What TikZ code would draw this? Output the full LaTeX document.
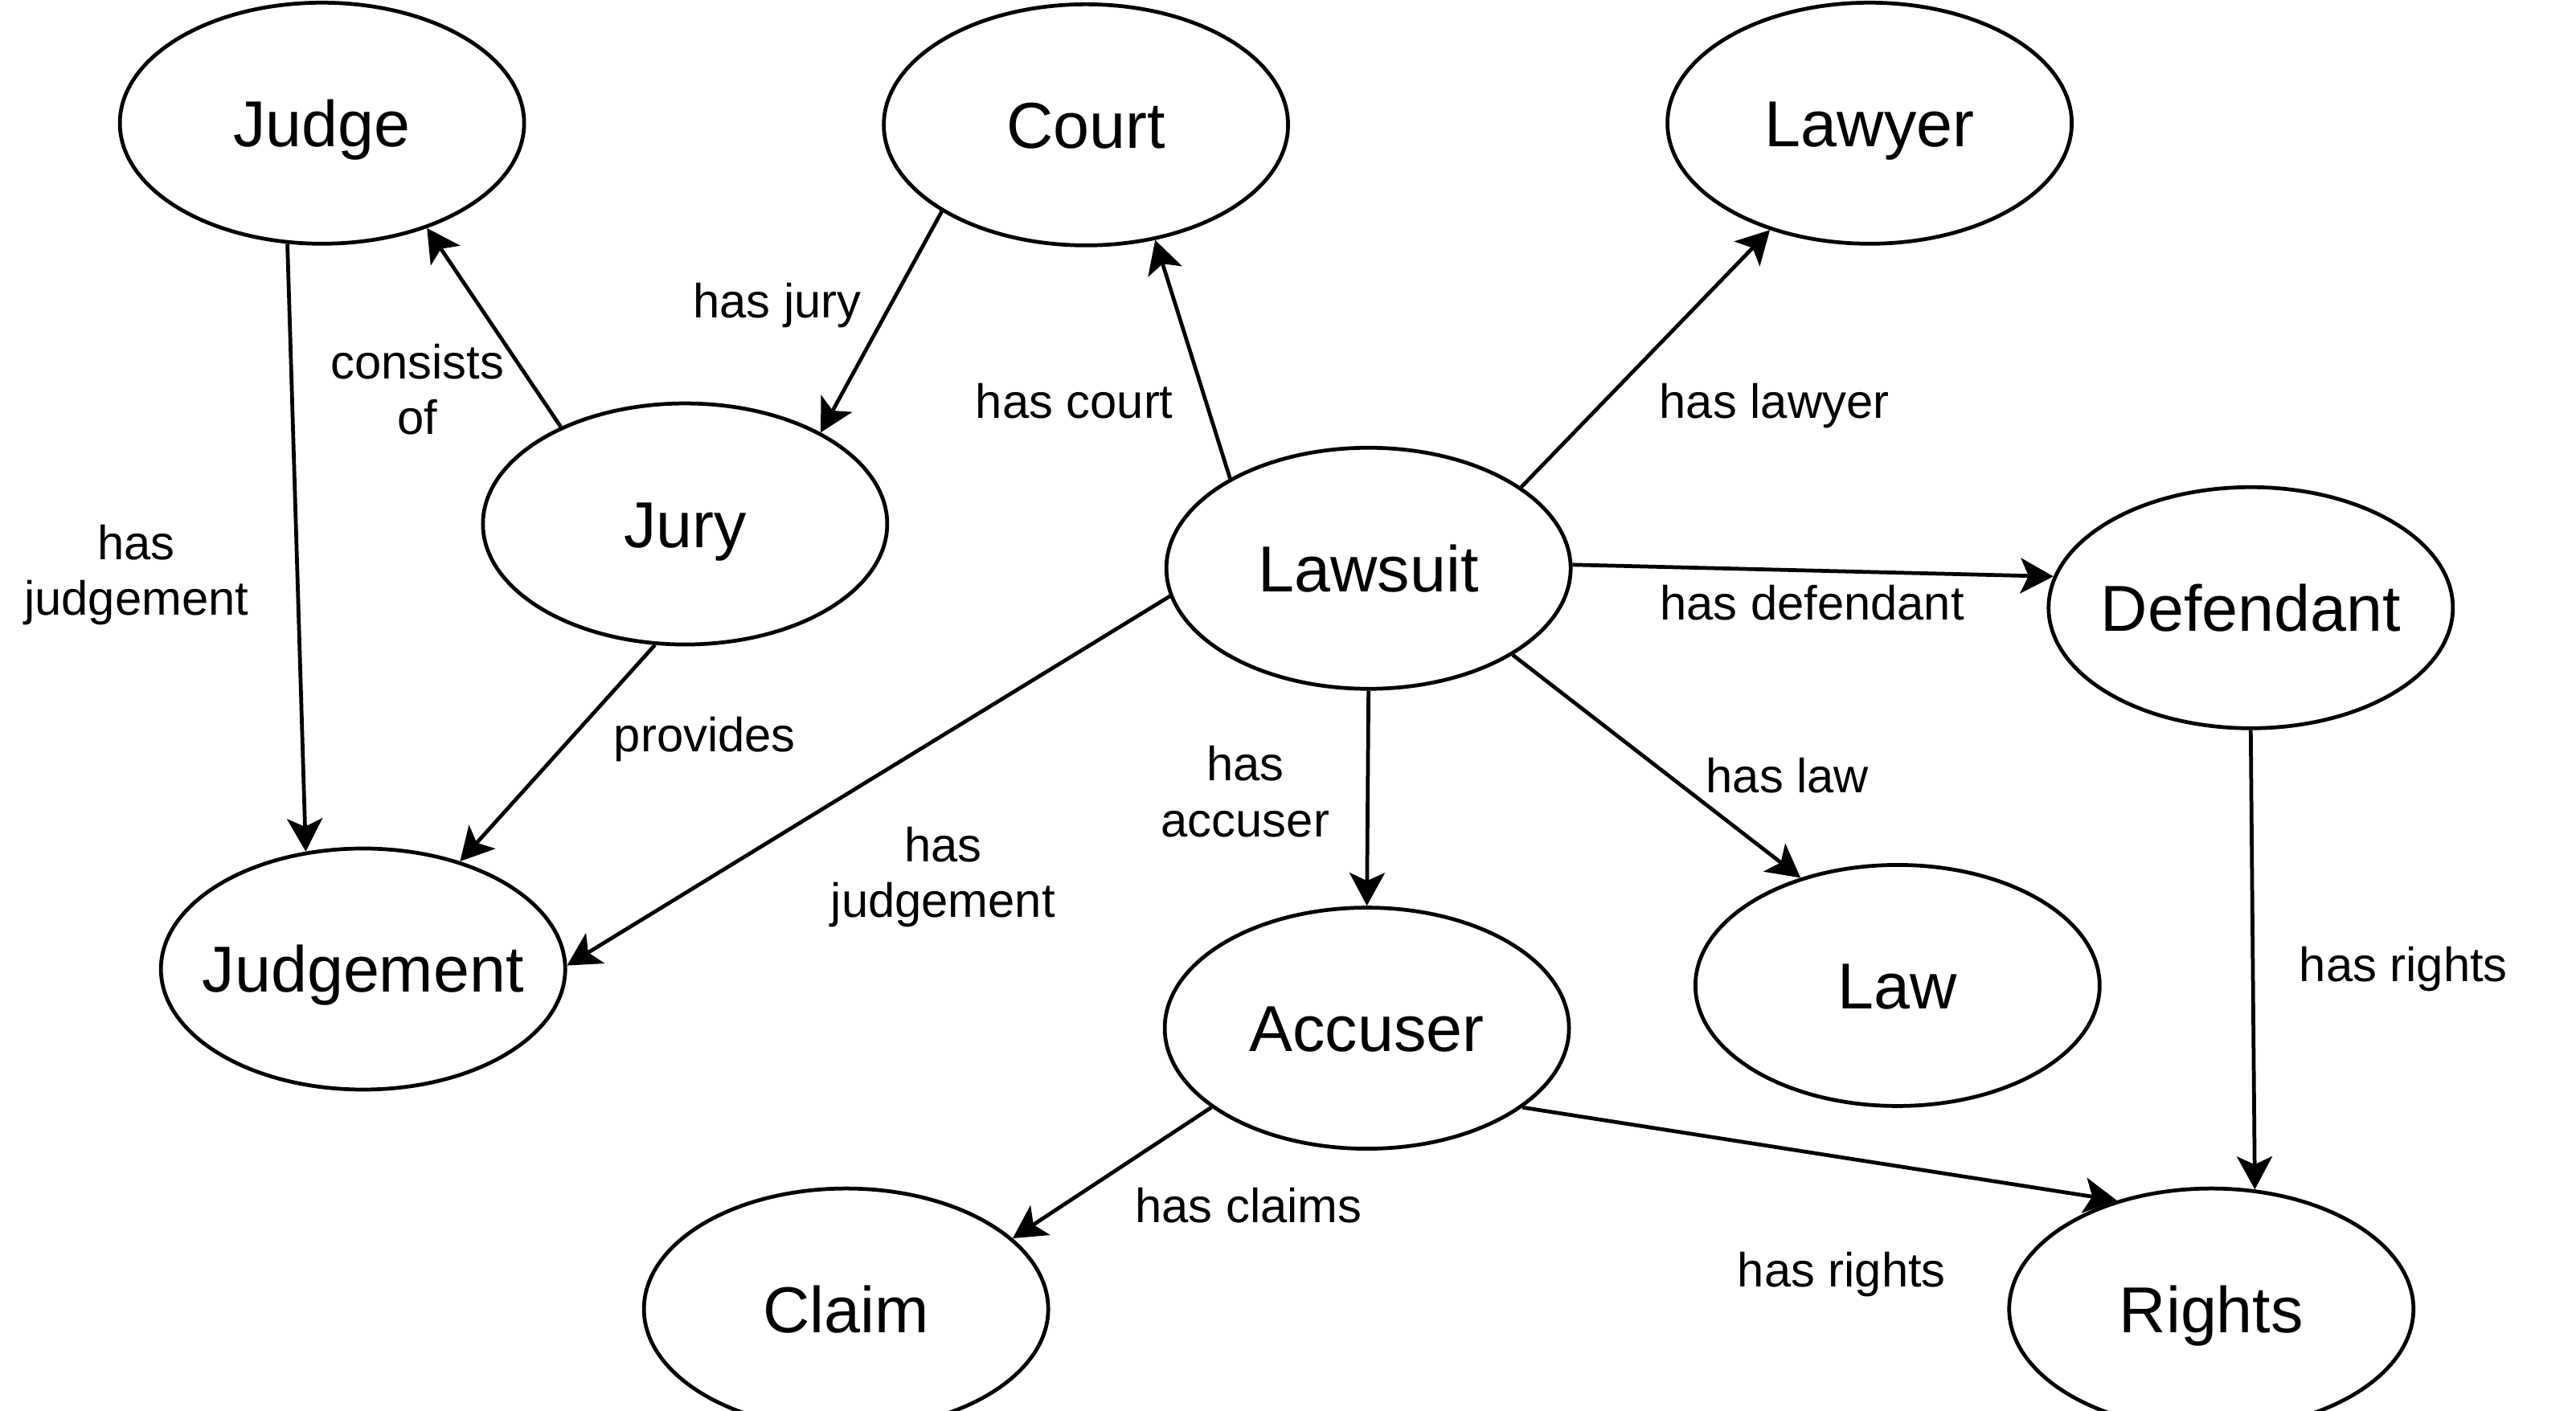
\documentclass[tikz,border=0pt]{standalone}
\usepackage{fontspec}
\setmainfont{Liberation Sans}
\usepackage{tikz}
\usetikzlibrary{shapes.geometric,arrows.meta}

\begin{document}
\begin{tikzpicture}[x=0.2044mm, y=-0.2044mm,
	ent/.style={ellipse, draw, line width=1.35pt, inner xsep=-6mm, inner ysep=0pt, minimum width=50.3mm, minimum height=30mm, text height=16.5pt, text depth=0pt, font=\fontsize{23}{27}\selectfont},
	lbl/.style={align=center, inner sep=0pt, font=\fontsize{17}{19.8}\selectfont},
	rel/.style={line width=1.35pt, -{Stealth[length=4.1mm, width=4.4mm, inset=1mm]}}]
	\useasboundingbox (0,0) rectangle (1568,859);
	% entities
	\node[ent] (judge) at (196,75) {Judge};
	\node[ent] (court) at (661,76) {Court};
	\node[ent] (lawyer) at (1138,75) {Lawyer};
	\node[ent] (jury) at (417,319) {Jury};
	\node[ent] (lawsuit) at (833,346) {Lawsuit};
	\node[ent] (defendant) at (1370,370) {Defendant};
	\node[ent] (judgement) at (221,590) {Judgement};
	\node[ent] (accuser) at (832,626) {Accuser};
	\node[ent] (law) at (1155,600) {Law};
	\node[ent] (claim) at (515,797) {Claim};
	\node[ent] (rights) at (1346,797) {Rights};
	% relations
	\draw[rel] (jury.142) -- (judge.-45);
	\draw[rel] (court.211) -- (jury.34);
	\draw[rel] (judge.254) -- (judgement.116);
	\draw[rel] (jury.256) -- (judgement.48);
	\draw[rel] (lawsuit.147) -- (court.-59);
	\draw[rel] (lawsuit.28) -- (lawyer.227);
	\draw[rel] (lawsuit.1) -- (defendant.171);
	\draw[rel] (lawsuit.-31) -- (law.132);
	\draw[rel] (lawsuit.south) -- (accuser.north);
	\draw[rel] (lawsuit.188) -- (judgement.1);
	\draw[rel] (defendant.south) -- (rights.70);
	\draw[rel] (accuser.-27) -- (rights.131);
	\draw[rel] (accuser.207) -- (claim.23);
	% labels
	\node[lbl] (l-consists) at (254,237) {consists\\of};
	\node[lbl] (l-jury) at (473,186) {has jury};
	\node[lbl] (l-judgeleft) at (83,350) {has\\judgement};
	\node[lbl] (l-provides) at (429,450) {provides};
	\node[lbl] (l-court) at (654,244) {has court};
	\node[lbl] (l-lawyer) at (1080,247) {has lawyer};
	\node[lbl] (l-defendant) at (1103,367) {has defendant};
	\node[lbl] (l-law) at (1088,472) {has law};
	\node[lbl] (l-accuser) at (758,482) {has\\accuser};
	\node[lbl] (l-judgemid) at (574,534) {has\\judgement};
	\node[lbl] (l-rightsdef) at (1463,590) {has rights};
	\node[lbl] (l-rightsacc) at (1121,776) {has rights};
	\node[lbl] (l-claims) at (760,734) {has claims};
\end{tikzpicture}
\end{document}
